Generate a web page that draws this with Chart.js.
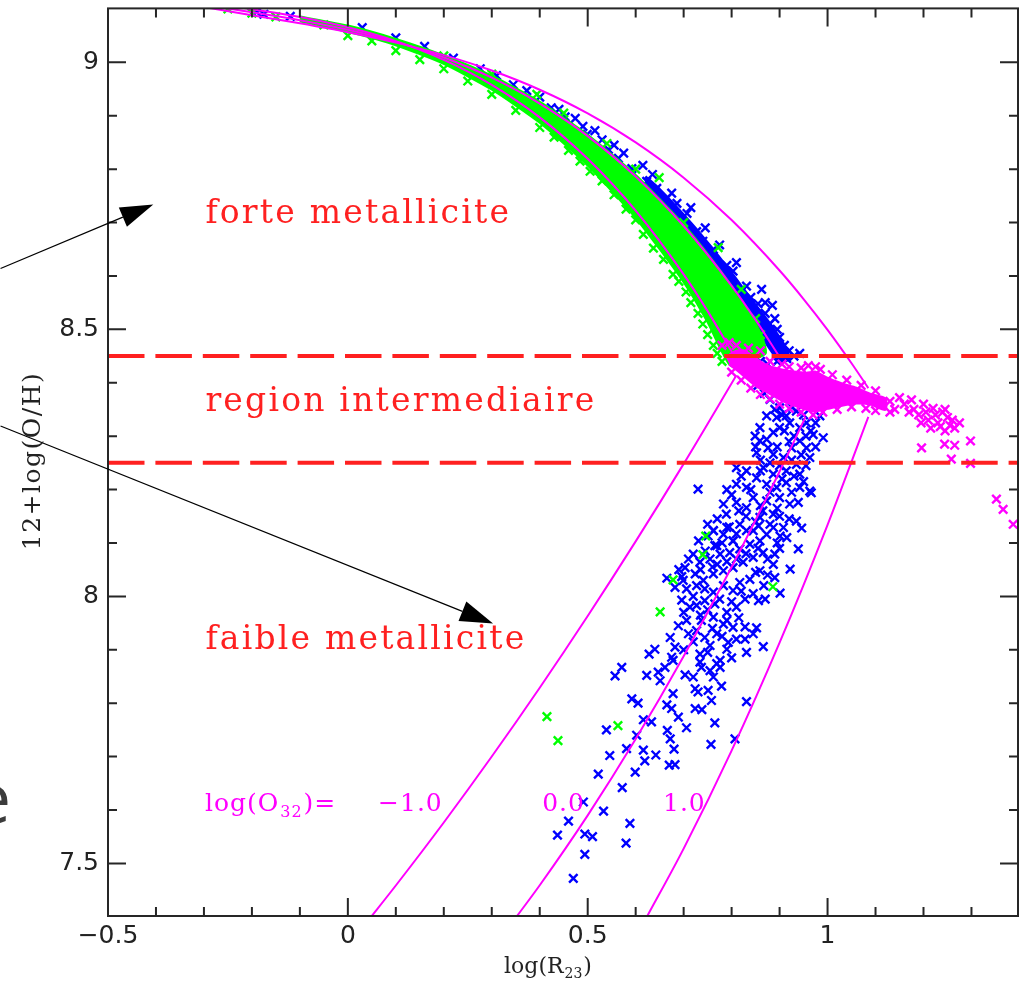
<!DOCTYPE html>
<html><head><meta charset="utf-8">
<script src="https://cdn.jsdelivr.net/npm/chart.js"></script>
<style>html,body{margin:0;padding:0;background:#fff;}canvas{display:block;}</style>
</head><body>
<canvas id="c" width="1030" height="983" style="width:1030px;height:983px"></canvas>
<script>
// ---- axis ranges and ticks ----
const X_MIN = -0.5, X_MAX = 1.397, Y_MIN = 7.4015, Y_MAX = 9.101;
const xMajorTicks = [-0.5, 0, 0.5, 1];
const xTickLabels = ['\u22120.5', '0', '0.5', '1'];
const xMinorTicks = [-0.4,-0.3,-0.2,-0.1,0.1,0.2,0.3,0.4,0.6,0.7,0.8,0.9,1.1,1.2,1.3];
const yMajorTicks = [7.5, 8, 8.5, 9];
const yTickLabels = ['7.5', '8', '8.5', '9'];
const yMinorTicks = [7.6,7.7,7.8,7.9,8.1,8.2,8.3,8.4,8.6,8.7,8.8,8.9];

// ---- metallicity region limits ----
const limitHigh = 8.45;
const limitLow = 8.25;

// ---- model curves (log O32 = -1, 0, 1), upper and lower branches ----
const curveUpperM1 = [[-0.3,9.112],[-0.2,9.0996],[-0.1,9.0849],[0,9.0657],[0.1,9.0397],[0.2,9.0046],[0.3,8.9579],[0.4,8.897],[0.5,8.8193],[0.6,8.7223],[0.7,8.603],[0.75,8.5341],[0.8,8.4585],[0.81,8.4426]];
const curveUpper0 = [[-0.3,9.1077],[-0.2,9.0939],[-0.1,9.0789],[0,9.061],[0.1,9.0383],[0.2,9.009],[0.3,8.9712],[0.4,8.9228],[0.5,8.8619],[0.6,8.7861],[0.7,8.6935],[0.8,8.5816],[0.85,8.5177],[0.9,8.4481]];
const curveUpper1 = [[-0.3,9.1034],[-0.2,9.0883],[-0.1,9.073],[0,9.0563],[0.1,9.0369],[0.2,9.0135],[0.3,8.9846],[0.4,8.9487],[0.5,8.9044],[0.6,8.85],[0.7,8.784],[0.8,8.7046],[0.9,8.6102],[0.95,8.5568],[1.0,8.4991],[1.05,8.4365],[1.085,8.3899]];
const curveLowerM1 = [[0.04,7.3904],[0.1,7.4586],[0.2,7.5766],[0.3,7.7001],[0.4,7.829],[0.5,7.9633],[0.6,8.103],[0.7,8.2481],[0.81,8.414]];
const curveLower0 = [[0.35,7.3982],[0.4,7.4591],[0.5,7.59],[0.6,7.7329],[0.7,7.8879],[0.8,8.0549],[0.9,8.2339],[0.954,8.3356]];
const curveLower1 = [[0.62,7.3944],[0.7,7.5277],[0.8,7.7111],[0.9,7.9132],[1.0,8.134],[1.085,8.3363]];

// ---- dense cores of the point clouds (outlines) ----
const greenCoreUpper = [[-0.1,9.085],[0,9.068],[0.1,9.043],[0.2,9.012],[0.3,8.974],[0.4,8.925],[0.5,8.863],[0.6,8.788],[0.7,8.695],[0.75,8.64],[0.8,8.58],[0.83,8.54],[0.85,8.51],[0.865,8.48],[0.87,8.455]];
const greenCoreLower = [[0.80,8.432],[0.78,8.46],[0.75,8.515],[0.7,8.59],[0.6,8.71],[0.5,8.808],[0.4,8.888],[0.3,8.95],[0.2,8.998],[0.1,9.033],[0,9.058],[-0.1,9.078]];
const blueCoreUpper = [[0.62,8.786],[0.65,8.762],[0.7,8.714],[0.75,8.662],[0.8,8.605],[0.85,8.545],[0.88,8.51],[0.91,8.47],[0.92,8.445]];
const blueCoreLower = [[0.9,8.44],[0.85,8.505],[0.8,8.572],[0.75,8.632],[0.7,8.686],[0.65,8.736],[0.62,8.762]];
const magentaCoreUpper = [[0.79,8.445],[0.80,8.455],[0.815,8.46],[0.83,8.458],[0.85,8.445],[0.873,8.432],[0.9,8.425],[0.93,8.42],[0.956,8.418],[0.975,8.42],[1.0,8.408],[1.03,8.398],[1.06,8.39],[1.09,8.378],[1.12,8.37]];
const magentaCoreLower = [[1.12,8.35],[1.09,8.36],[1.06,8.362],[1.03,8.358],[1.0,8.352],[0.97,8.347],[0.94,8.355],[0.91,8.365],[0.88,8.38],[0.85,8.395],[0.83,8.41],[0.81,8.425],[0.795,8.435]];

// ---- individual points ----
const bluePoints = [
[-0.19,9.094],[-0.175,9.09],[-0.12,9.086],[0.03,9.065],[0.1,9.046],[0.16,9.03],[0.22,9.008],[0.276,8.988],[0.31,8.975],[0.345,8.958],[0.373,8.947],[0.40,8.935],[0.424,8.915],[0.44,8.912],[0.453,8.898],[0.474,8.895],[0.49,8.88],[0.499,8.865],[0.515,8.872],[0.53,8.855],[0.543,8.837],[0.555,8.845],[0.564,8.82],[0.575,8.83],[0.592,8.801],[0.615,8.807],[0.623,8.777],[0.635,8.79],[0.644,8.764],[0.665,8.745],[0.675,8.755],[0.686,8.736],[0.707,8.717],[0.715,8.728],[0.727,8.683],[0.74,8.665],[0.745,8.69],[0.762,8.65],[0.775,8.658],[0.79,8.62],[0.803,8.609],[0.81,8.625],[0.831,8.581],[0.8625,8.575],[0.84,8.56],[0.855,8.548],[0.87,8.53],[0.885,8.545],[0.88,8.51],[0.895,8.5],[0.9,8.485],[0.91,8.47],[0.92,8.46],[0.93,8.45],[0.942,8.455],[0.915,8.445],[0.895,8.44],[0.875,8.435],[0.86,8.44],[0.82,8.57],[0.85,8.53],[0.87,8.55],[0.89,8.52],
[0.855,8.395],[0.868,8.38],
[0.88,8.369],[0.9,8.353],[0.914,8.338],[0.894,8.335],[0.935,8.347],[0.921,8.325],[0.9,8.316],[0.942,8.316],[0.956,8.325],[0.984,8.338],[0.97,8.303],[0.991,8.297],[0.942,8.291],[0.925,8.278],[0.956,8.278],[0.908,8.26],[0.887,8.266],[0.873,8.294],[0.887,8.307],[0.852,8.269],[0.866,8.241],[0.887,8.229],[0.914,8.235],[0.942,8.229],[0.963,8.26],[0.935,8.247],[0.914,8.213],[0.894,8.204],[0.873,8.21],[0.852,8.222],[0.831,8.204],[0.81,8.21],[0.845,8.185],[0.873,8.179],[0.9,8.185],[0.921,8.173],[0.887,8.154],[0.859,8.148],[0.831,8.166],[0.81,8.176],[0.789,8.154],[0.817,8.135],[0.845,8.123],[0.873,8.116],[0.908,8.129],[0.935,8.141],[0.783,8.116],[0.762,8.123],[0.803,8.104],[0.769,8.095],[0.73,8.201],[0.963,8.197],[0.783,8.173],[0.849,8.3],[0.831,8.235],[0.81,8.241],[0.942,8.204],[0.939,8.176],[0.966,8.194],[0.89,8.35],[0.873,8.338],[0.859,8.316],[0.876,8.278],[0.859,8.291],
[0.905,8.34],[0.925,8.355],[0.95,8.34],[0.965,8.31],[0.93,8.30],[0.91,8.31],[0.975,8.325],[0.955,8.30],
[0.86,8.255],[0.895,8.28],[0.92,8.29],[0.945,8.265],[0.975,8.28],[0.9,8.245],[0.85,8.28],[0.925,8.255],[0.955,8.245],[0.88,8.25],
[0.82,8.225],[0.84,8.2],[0.86,8.235],[0.88,8.195],[0.905,8.22],[0.925,8.195],[0.95,8.215],[0.79,8.2],[0.8,8.19],[0.86,8.17],[0.895,8.165],[0.93,8.225],
[0.77,8.145],[0.795,8.13],[0.83,8.15],[0.85,8.14],[0.88,8.135],[0.9,8.15],[0.92,8.145],[0.75,8.135],[0.815,8.16],[0.865,8.16],[0.895,8.1],[0.78,8.1],
[0.745,8.085],[0.77,8.06],[0.79,8.065],[0.81,8.07],[0.83,8.08],[0.855,8.09],[0.875,8.07],[0.9,8.09],[0.71,8.07],[0.735,8.05],[0.76,8.055],[0.85,8.045],[0.875,8.04],[0.69,8.05],
[0.72,8.0],[0.75,7.975],[0.775,7.995],[0.8,7.99],[0.82,8.01],[0.845,8.005],[0.87,7.995],[0.89,8.035],[0.7,7.97],[0.735,7.965],[0.79,7.955],[0.815,7.96],
[0.71,7.93],[0.76,7.94],[0.78,7.925],[0.81,7.92],[0.845,7.93],[0.7,7.9],[0.75,7.895],[0.8,7.885],[0.72,7.915],
[0.946,8.128],[0.939,8.089],[0.922,8.051],[0.901,8.006],[0.867,8.02],[0.856,7.992],[0.828,7.995],[0.81,7.98],[0.79,7.97],[0.765,7.986],[0.744,7.992],[0.727,7.983],[0.713,7.98],[0.696,7.993],[0.706,8.014],[0.727,8.02],[0.744,8.014],[0.762,8.008],[0.783,8.02],[0.803,8.011],[0.817,8.026],[0.838,8.032],[0.859,8.048],[0.887,8.06],[0.89,8.079],[0.866,8.082],[0.845,8.073],[0.824,8.064],[0.803,8.054],[0.783,8.048],[0.762,8.042],[0.741,8.03],[0.724,8.042],[0.703,8.054],[0.699,8.03],[0.682,8.017],[0.665,8.034],[0.696,8.037],[0.731,8.104],[0.751,8.113],[0.762,8.123],[0.79,8.129],[0.81,8.117],[0.831,8.123],[0.856,8.132],[0.887,8.129],[0.901,8.113],[0.915,8.11],[0.859,8.104],[0.838,8.098],[0.817,8.089],[0.796,8.082],[0.776,8.079],[0.755,8.07],[0.734,8.064],[0.72,8.079],[0.765,8.095],[0.803,8.104],
[0.762,7.961],[0.737,7.955],[0.783,7.948],[0.803,7.942],[0.769,7.93],[0.744,7.923],[0.727,7.936],[0.706,7.955],[0.689,7.945],[0.793,7.914],[0.755,7.908],[0.79,7.901],
[0.828,7.943],[0.852,7.941],[0.828,7.92],[0.831,7.895],[0.866,7.906],[0.776,7.88],[0.776,7.867],[0.779,7.832],[0.758,7.805],[0.831,7.803],[0.765,7.763],[0.807,7.733],[0.757,7.723],[0.706,7.754],[0.738,7.788],[0.724,7.79],[0.678,7.818],[0.689,7.774],[0.666,7.749],[0.672,7.733],[0.68,7.714],[0.67,7.684],[0.682,7.685],[0.642,7.703],[0.619,7.692],[0.616,7.712],[0.599,7.671],[0.581,7.715],[0.546,7.702],[0.522,7.667],[0.539,7.75],[0.602,7.74],[0.616,7.769],[0.633,7.765],[0.665,7.797],[0.675,7.79],[0.592,7.808],[0.605,7.8],[0.557,7.851],[0.571,7.867],[0.623,7.852],[0.651,7.842],[0.647,7.858],[0.661,7.867],[0.675,7.886],[0.703,7.853],[0.72,7.849],[0.734,7.892],[0.737,7.867],[0.755,7.861],[0.769,7.874],[0.762,7.849],[0.751,7.824],[0.724,7.827],[0.73,7.821],[0.678,7.88],[0.64,7.901],[0.628,7.892],[0.672,7.923],[0.682,7.905],[0.734,7.877],
[0.572,7.642],[0.533,7.598],[0.491,7.615],[0.46,7.579],[0.437,7.553],[0.494,7.555],[0.51,7.55],[0.494,7.517],[0.47,7.472],[0.588,7.575],[0.58,7.538]
];
const greenPoints = [
[-0.25,9.1],[-0.2,9.092],[-0.15,9.085],[-0.05,9.07],[0.0,9.05],[0.05,9.04],[0.1,9.022],[0.15,9.005],[0.2,8.988],[0.25,8.965],[0.3,8.94],[0.35,8.91],[0.4,8.878],[0.43,8.86],[0.46,8.835],[0.484,8.815],[0.505,8.796],[0.53,8.778],[0.555,8.752],[0.58,8.725],[0.60,8.705],[0.616,8.678],[0.637,8.652],[0.658,8.631],[0.678,8.603],[0.69,8.59],[0.705,8.57],[0.715,8.55],[0.73,8.53],[0.74,8.51],[0.75,8.49],[0.762,8.47],[0.77,8.455],[0.78,8.44],
[0.394,8.94],[0.54,8.848],[0.649,8.784],[0.772,8.653],[0.6,8.80],[0.7,8.70],[0.45,8.905],[0.82,8.575],[0.85,8.52],[0.86,8.49],[0.3,8.978],[0.2,9.012],
[0.415,7.775],[0.438,7.730],[0.563,7.758],[0.651,7.971],[0.678,8.031],[0.740,8.078],[0.746,8.113],[0.886,8.018]
];
const magentaPoints = [
[0.78,8.47],[0.795,8.475],[0.81,8.47],[0.835,8.465],[0.86,8.46],[0.88,8.44],[0.905,8.435],[0.92,8.43],[0.945,8.428],[0.96,8.432],[0.975,8.43],[0.985,8.425],[1.01,8.415],[1.04,8.405],[1.07,8.395],[1.1,8.385],
[0.80,8.42],[0.82,8.405],[0.84,8.39],[0.86,8.378],[0.88,8.37],[0.90,8.36],[0.92,8.352],[0.945,8.345],[0.97,8.34],[0.99,8.345],[1.02,8.35],[1.05,8.355],[1.08,8.352],[1.1,8.348],
[1.13,8.365],[1.15,8.372],[1.16,8.36],[1.175,8.368],[1.18,8.35],[1.19,8.34],[1.2,8.36],[1.205,8.345],[1.21,8.33],[1.22,8.352],[1.225,8.34],[1.23,8.325],[1.24,8.345],[1.245,8.35],[1.25,8.335],[1.255,8.32],[1.26,8.33],[1.265,8.315],[1.245,8.31],[1.235,8.318],[1.14,8.35],[1.13,8.345],[1.17,8.345],[1.195,8.325],[1.215,8.315],[1.275,8.325],
[1.196,8.278],[1.244,8.285],[1.265,8.283],[1.258,8.257],[1.298,8.291],[1.298,8.249],[1.352,8.182],[1.366,8.163],[1.387,8.135]
];

// ---- annotations (data coordinates) ----
const regionLabels = [
  {text:'forte metallicite', x:-0.297, y:8.6985},
  {text:'region intermediaire', x:-0.297, y:8.347},
  {text:'faible metallicite', x:-0.297, y:7.902}
];
const o32Labels = [
  {text:'\u22121.0', x:0.063, y:7.599},
  {text:'0.0', x:0.405, y:7.599},
  {text:'1.0', x:0.657, y:7.599}
];
const o32Prefix = {x:-0.298, y:7.599};
const arrows = [
  {from:[-0.724,8.614], to:[-0.4056,8.734]},
  {from:[-0.724,8.319], to:[0.3027,7.949]}
];

// ---- build ----
const pts = a => a.map(([x,y]) => ({x, y}));
const RED='#ff2020', MAG='#ff00ff', GREEN='#00ff00', BLUE='#0000ff';

function curve(arr){
  return {type:'line', data:pts(arr), borderColor:MAG, borderWidth:2, pointRadius:0, fill:false, cubicInterpolationMode:'monotone', clip:0, order:3};
}
function core(upper, lower, color, order){
  return {type:'line', data:pts(upper.concat(lower)), borderColor:color, backgroundColor:color, borderWidth:3, pointRadius:0, fill:'shape', tension:0.2, clip:0, order};
}
function cloud(arr, color, order){
  return {type:'scatter', data:pts(arr), pointStyle:'crossRot', pointRadius:6, borderWidth:2.4, borderColor:color, backgroundColor:color, showLine:false, clip:0, order};
}
function hline(v){
  return {type:'line', data:[{x:X_MIN,y:v},{x:X_MAX,y:v}], borderColor:RED, borderWidth:4, borderDash:[36.5,10.9], pointRadius:0, fill:false, clip:0, order:1};
}

const datasets = [
  core(blueCoreUpper, blueCoreLower, BLUE, 12),
  cloud(bluePoints, BLUE, 11),
  core(greenCoreUpper, greenCoreLower, GREEN, 10),
  cloud(greenPoints, GREEN, 9),
  core(magentaCoreUpper, magentaCoreLower, MAG, 8),
  cloud(magentaPoints, MAG, 7),
  curve(curveUpperM1), curve(curveUpper0), curve(curveUpper1),
  curve(curveLowerM1), curve(curveLower0), curve(curveLower1),
  hline(limitHigh), hline(limitLow)
];

const frameTicks = {
  id:'frameTicks',
  afterDraw(chart){
    const {ctx, chartArea:{left,right,top,bottom}, scales:{x,y}} = chart;
    ctx.save();
    ctx.strokeStyle='#262626'; ctx.lineWidth=2; ctx.lineCap='butt';
    ctx.beginPath();
    const vt=(vals,len)=>vals.forEach(v=>{const p=x.getPixelForValue(v);ctx.moveTo(p,bottom);ctx.lineTo(p,bottom-len);ctx.moveTo(p,top);ctx.lineTo(p,top+len);});
    const ht=(vals,len)=>vals.forEach(v=>{const p=y.getPixelForValue(v);ctx.moveTo(left,p);ctx.lineTo(left+len,p);ctx.moveTo(right,p);ctx.lineTo(right-len,p);});
    vt(xMajorTicks.slice(1),18); vt(xMinorTicks,9); ht(yMajorTicks,18); ht(yMinorTicks,9);
    ctx.stroke();
    ctx.strokeRect(left,top,right-left,bottom-top);
    ctx.restore();
  }
};

const annotations = {
  id:'annotations',
  afterDraw(chart){
    const {ctx, scales:{x,y}} = chart;
    ctx.save();
    // region labels
    ctx.fillStyle=RED; ctx.font='33px "DejaVu Serif"'; ctx.textBaseline='alphabetic'; ctx.textAlign='left';
    ctx.letterSpacing='2.2px';
    regionLabels.forEach(l=>ctx.fillText(l.text, x.getPixelForValue(l.x), y.getPixelForValue(l.y)));
    // O32 labels
    ctx.fillStyle=MAG; ctx.letterSpacing='1px';
    let px=x.getPixelForValue(o32Prefix.x), py=y.getPixelForValue(o32Prefix.y);
    ctx.font='25px "DejaVu Serif"'; ctx.fillText('log(O',px,py); px+=ctx.measureText('log(O').width;
    ctx.font='16px "DejaVu Serif"'; ctx.fillText('32',px+1,py+6); px+=ctx.measureText('32').width+2;
    ctx.font='25px "DejaVu Serif"'; ctx.fillText(')=',px,py);
    o32Labels.forEach(l=>ctx.fillText(l.text, x.getPixelForValue(l.x), y.getPixelForValue(l.y)));
    ctx.letterSpacing='0px';
    // arrows
    ctx.strokeStyle='#000'; ctx.fillStyle='#000'; ctx.lineWidth=1.2;
    arrows.forEach(a=>{
      const x0=x.getPixelForValue(a.from[0]), y0=y.getPixelForValue(a.from[1]);
      const x1=x.getPixelForValue(a.to[0]), y1=y.getPixelForValue(a.to[1]);
      const ang=Math.atan2(y1-y0,x1-x0), L=33, W=10.5;
      const bx=x1-L*Math.cos(ang), by=y1-L*Math.sin(ang);
      ctx.beginPath(); ctx.moveTo(x0,y0); ctx.lineTo(bx,by); ctx.stroke();
      ctx.beginPath(); ctx.moveTo(x1,y1);
      ctx.lineTo(bx+W*Math.sin(ang), by-W*Math.cos(ang));
      ctx.lineTo(bx-W*Math.sin(ang), by+W*Math.cos(ang));
      ctx.closePath(); ctx.fill();
    });
    // axis titles
    ctx.fillStyle='#222';
    ctx.font='22px "DejaVu Serif"';
    const w1=ctx.measureText('log(R').width; ctx.font='14px "DejaVu Serif"'; const w2=ctx.measureText('23').width;
    ctx.font='22px "DejaVu Serif"'; const w3=ctx.measureText(')').width;
    let tx=548-(w1+w2+w3+2)/2, ty=973;
    ctx.fillText('log(R',tx,ty); tx+=w1+1;
    ctx.font='14px "DejaVu Serif"'; ctx.fillText('23',tx,ty+5); tx+=w2+1;
    ctx.font='22px "DejaVu Serif"'; ctx.fillText(')',tx,ty);
    ctx.translate(33,461); ctx.rotate(-Math.PI/2);
    ctx.textAlign='center'; ctx.textBaseline='middle'; ctx.font='25px "DejaVu Serif"'; ctx.letterSpacing='1.5px';
    ctx.fillText('12+log(O/H)',0,0);
    ctx.restore();
    // cropped slide text at the left edge
    ctx.save(); ctx.fillStyle='#3c3c3c'; ctx.font='70px "Open Sans"'; ctx.textAlign='right'; ctx.textBaseline='alphabetic';
    ctx.fillText('e',11,823); ctx.restore();
  }
};

new Chart(document.getElementById('c').getContext('2d'), {
  type:'scatter',
  data:{datasets},
  options:{
    responsive:false, animation:false, devicePixelRatio:1, events:[],
    layout:{padding:{left:0,right:12,top:7,bottom:0}},
    plugins:{legend:{display:false}, tooltip:{enabled:false}},
    scales:{
      x:{type:'linear', min:X_MIN, max:X_MAX,
        afterBuildTicks:s=>{s.ticks=xMajorTicks.map(v=>({value:v}));},
        afterFit:s=>{s.height=67; s.paddingLeft=0; s.paddingRight=0; s.paddingTop=0; s.paddingBottom=0;},
        ticks:{callback:(v,i)=>xTickLabels[i], font:{family:'DejaVu Sans',size:25}, color:'#222', padding:5, maxRotation:0, autoSkip:false},
        grid:{display:false, drawTicks:false}, border:{display:false}},
      y:{type:'linear', min:Y_MIN, max:Y_MAX,
        afterBuildTicks:s=>{s.ticks=yMajorTicks.map(v=>({value:v}));},
        afterFit:s=>{s.width=108; s.paddingTop=0; s.paddingBottom=0; s.paddingLeft=0; s.paddingRight=0;},
        ticks:{callback:(v,i)=>yTickLabels[i], font:{family:'DejaVu Sans',size:25}, color:'#222', padding:9, autoSkip:false},
        grid:{display:false, drawTicks:false}, border:{display:false}}
    }
  },
  plugins:[frameTicks, annotations]
});
</script>
</body></html>
